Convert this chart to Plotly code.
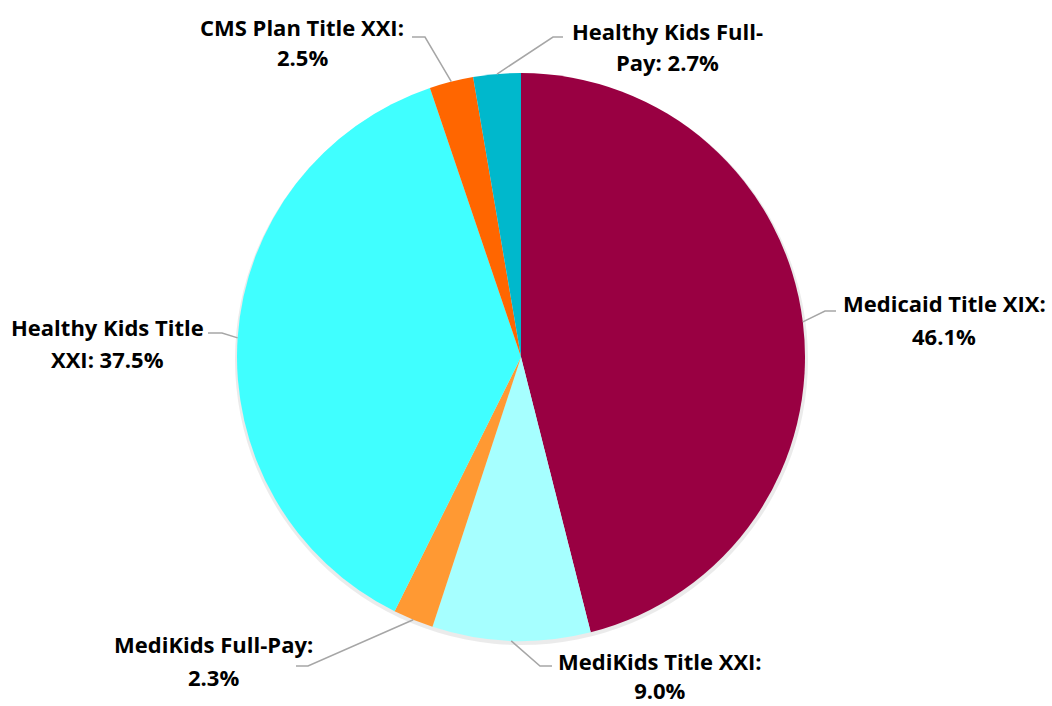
import math
import plotly.graph_objects as go

# ---- data ----
categories = ["Medicaid Title XIX", "MediKids Title XXI", "MediKids Full-Pay",
              "Healthy Kids Title XXI", "CMS Plan Title XXI", "Healthy Kids Full-Pay"]
values = [46.1, 9.0, 2.3, 37.5, 2.5, 2.7]
label_line1 = ["Medicaid Title XIX:", "MediKids Title XXI:", "MediKids Full-Pay:",
               "Healthy Kids Title", "CMS Plan Title XXI:", "Healthy Kids Full-"]
label_line2 = ["46.1%", "9.0%", "2.3%", "XXI: 37.5%", "2.5%", "Pay: 2.7%"]
colors = ["#990042", "#A6FFFF", "#FF9933", "#40FFFF", "#FF6600", "#00B8CC"]

# ---- layout style (pixel positions of labels / elbows) ----
W, H = 1052, 706
CX, CY, R = 521, 357, 284
label_pos = [(944, 303, 336), (660, 665, 697), (213, 644, 677),
             (107, 327, 359), (302, 27, 57), (667, 31, 62)]
bottom_block = [False, True, False, False, False, False]  # label block anchored to bottom edge
elbow = [((825, 311), (836, 311)), ((540, 666), (552, 666)), ((308, 666), (296, 666)),
         ((222, 333), (208, 333)), ((425, 37), (412, 37)), ((553, 37), (563, 37))]
FONT = dict(family="Open Sans", size=22, color="#000000", weight="bold")

px = lambda x: x / W
py = lambda y: 1 - y / H

fig = go.Figure(go.Pie(
    labels=categories, values=values, sort=False, direction="clockwise",
    rotation=0, marker=dict(colors=colors, line=dict(width=0)),
    textinfo="none", hoverinfo="label+percent", showlegend=False,
    domain=dict(x=[px(CX - R), px(CX + R)], y=[py(CY + R), py(CY - R)]),
))

# soft shadow behind pie
fig.add_shape(type="circle", xref="paper", yref="paper", layer="below",
              x0=px(CX - R - 2), x1=px(CX + R + 3), y0=py(CY + R + 4), y1=py(CY - R + 1),
              fillcolor="rgba(0,0,0,0.08)", line=dict(width=0))

total = sum(values)
cum = 0
annotations = []
for i, v in enumerate(values):
    mid = (cum + v / 2) / total * 360
    cum += v
    a = math.radians(90 - mid)
    sx, sy = CX + R * math.cos(a), CY - R * math.sin(a)
    (ex, ey), (hx, hy) = elbow[i]
    fig.add_shape(type="path", xref="paper", yref="paper",
                  path=f"M {px(sx)} {py(sy)} L {px(ex)} {py(ey)} L {px(hx)} {py(hy)}",
                  line=dict(color="#A6A6A6", width=1.5))
    lx, ly1, ly2 = label_pos[i]
    if bottom_block[i]:
        annotations.append(dict(text=label_line1[i] + "<br>" + label_line2[i],
                                x=px(lx), y=0, xref="paper", yref="paper",
                                xanchor="center", yanchor="bottom", showarrow=False,
                                borderpad=0, font=FONT))
    else:
        for txt, ly in ((label_line1[i], ly1), (label_line2[i], ly2)):
            annotations.append(dict(text=txt, x=px(lx), y=py(ly), xref="paper", yref="paper",
                                    xanchor="center", yanchor="middle", showarrow=False,
                                    font=FONT))

fig.update_layout(width=W, height=H, margin=dict(l=0, r=0, t=0, b=0),
                  paper_bgcolor="white", plot_bgcolor="white", annotations=annotations)
fig.write_html("out.html", config={"displayModeBar": False})

with open("out.html", "r", encoding="utf-8") as f:
    html = f.read()
html = html.replace("<head>", "<head><style>html,body{margin:0;padding:0;overflow:hidden;}</style>", 1)
with open("out.html", "w", encoding="utf-8") as f:
    f.write(html)
